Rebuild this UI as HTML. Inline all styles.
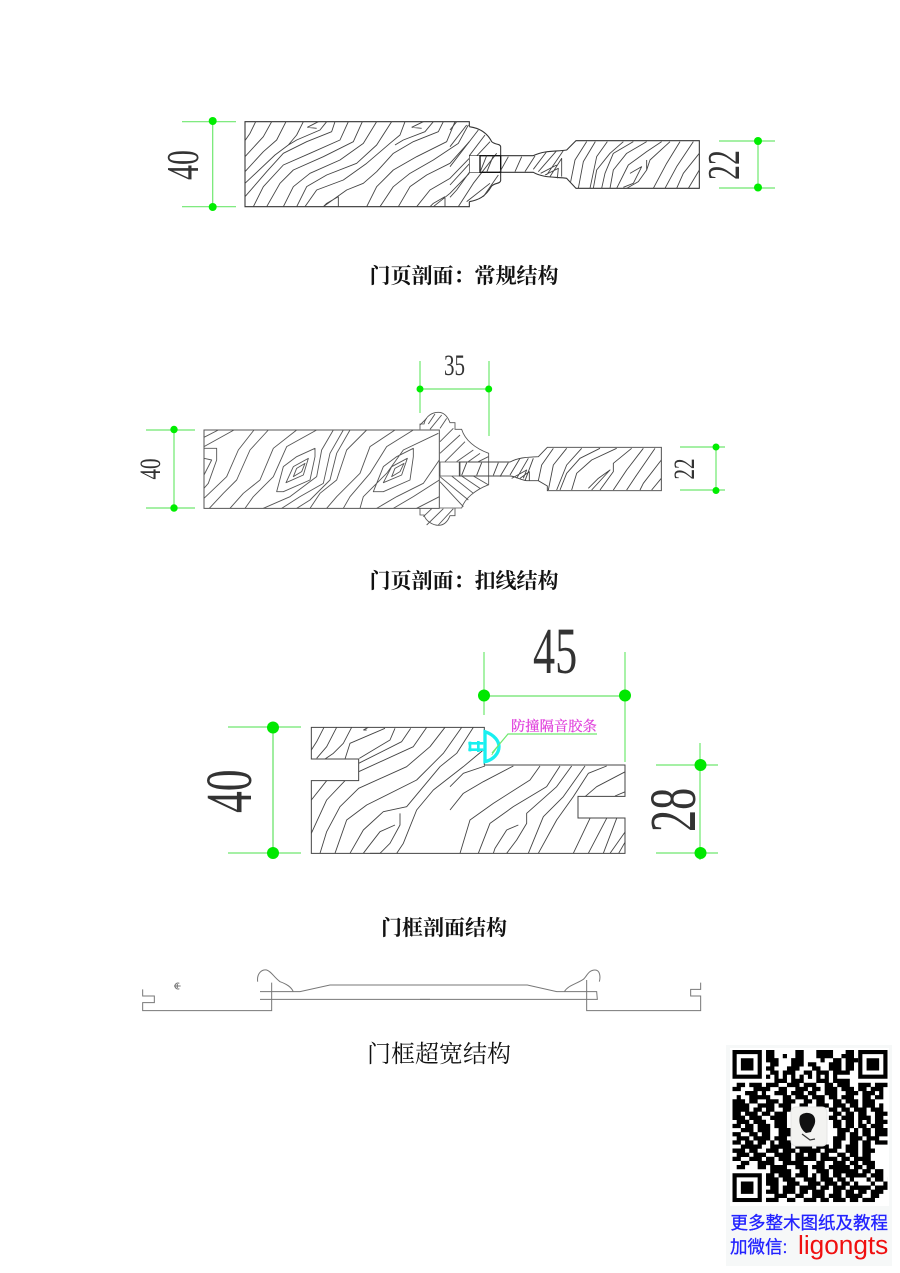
<!DOCTYPE html>
<html><head><meta charset="utf-8"><style>
html,body{margin:0;padding:0;background:#fff}
svg{display:block}
.w{fill:none;stroke:#444;stroke-width:2.7;stroke-linejoin:round}
.o{fill:none;stroke:#333;stroke-width:3.2}
.g{stroke:#6fe86f;stroke-width:1.2;fill:none}
.d{fill:#00ee00}
.n{font-family:"Liberation Serif",serif;fill:#333}
.t{font-family:"Liberation Serif","Noto Serif CJK SC",serif;fill:#111}
</style></head><body>
<svg width="900" height="1273" viewBox="0 0 900 1273" xmlns="http://www.w3.org/2000/svg">
<defs><clipPath id="qc"><rect x="0" y="0" width="37" height="37"/></clipPath></defs>
<rect width="900" height="1273" fill="#fff"/>

<!-- Drawing 1 -->
<g transform="translate(150,100) scale(.33333)">
<path class="o" d="M958 80V65H285V320H958V305"/>
<path class="w" d="M317 65L300 100L285 122M365 65L340 110L285 170M408 65L380 120L340 155L285 215M460 65L440 105L415 135L375 165L285 250M472 82L505 65M472 82L500 85M530 65L510 90L440 120L415 135M555 65L545 95L470 125L400 160L350 215L285 290M595 65L570 120L480 160L400 195L340 260L310 320M637 65L610 125L520 170L430 210L390 250L350 320M680 65L640 130L570 180L480 220L430 260L400 320M725 65L680 135L620 190L530 225L470 260L440 320M765 65L750 105L720 130L650 190L580 240L500 270L465 320M785 82L820 65M785 82L815 85M850 65L825 95L760 120L735 135M880 65L865 95L790 125L730 160L680 215L640 250L590 270L520 320M915 65L890 125L800 170L730 210L680 260L650 320M955 75L925 130L850 180L780 220L730 260L690 320M958 125L900 190L830 225L780 260L745 320M958 175L900 235L840 270L800 320M958 220L900 280L850 320M565 290V320M565 290L530 310L520 320M885 290V320M885 290L850 310L840 320"/>
</g>
<g transform="translate(450,110) scale(.33333)">
<path class="o" d="M58 50C95 55 115 75 125 95C135 105 150 100 152 110V212C150 222 135 218 125 228C105 262 85 270 58 275"/>
<path class="w" d="M0 60L20 35M0 110L50 45M0 170L85 60M0 225L50 170L120 95M58 137L105 75M58 187L20 240L0 262M25 290L70 220L140 130M50 275L120 220M100 260L145 195"/>
<path d="M58 137H90V187H58Z" fill="#fff" stroke="#333" stroke-width="2"/>
<path d="M90 137H152V187H90Z" fill="none" stroke="#111" stroke-width="4"/>
<path class="o" d="M152 137H250C285 120 320 125 350 120L378 92H748V235H378L350 205C320 200 280 205 250 187H152"/>
<path class="w" d="M110 137L90 187M130 137L110 187M175 140L150 185M215 140L195 185M255 138L225 185M290 125L250 178M320 122L265 185M340 122L290 195M272 190L320 165M285 195L325 175L322 205M300 200L335 145V200M410 95L375 150L362 215M436 95L400 155L385 235M472 95L440 140L420 235M520 95L480 130L440 180L430 235M550 95L490 130L465 190L455 235M590 95L530 130L490 180L480 235M635 95L590 125L535 165L500 235M660 95L600 150L590 180L565 215L530 235M590 150V180M540 190L575 170L550 220L520 232M690 95L650 160L610 235M730 95L680 170L645 235M748 130L700 190L680 235M748 180L715 235"/>
</g>
<g class="g"><path d="M182 121.7H236M182 206.7H236M212.7 121.7V206.7M719 141H775M719 188H775M758 141V188"/></g>
<g class="d"><circle cx="212.7" cy="121" r="4"/><circle cx="212.7" cy="207" r="4"/><circle cx="758" cy="141" r="4"/><circle cx="758" cy="187.5" r="4"/></g>
<text class="n" font-size="46" transform="translate(198,180) rotate(-90) scale(.65,1)">40</text>
<text class="n" font-size="46" transform="translate(739,180) rotate(-90) scale(.65,1)">22</text>
<text class="t" font-size="21" font-weight="700" x="369.5" y="283">门页剖面：常规结构</text>

<!-- Drawing 2 -->
<g transform="translate(410,350) scale(.33333)">
<path fill="none" stroke="#555" stroke-width="2.6" d="M30 238V222H42C48 195 70 187 85 187C105 187 115 205 120 218H135V238H155C165 270 195 295 236 310V404C195 420 165 445 155 474H90M30 474V495H42C48 515 70 526 85 526C105 526 115 510 120 497H135V474"/>
<path class="w" style="stroke:#555" d="M50 205L30 225M75 192L55 222M95 195L60 238M110 205L90 235M130 235L90 275M150 255L90 310M165 275L105 335M190 300L140 335M210 310L175 335M235 320L205 335M90 395L160 470M90 380L175 450M125 378L190 430M155 378L210 415M190 378L236 405M100 476L50 525M130 476L85 525M65 476L40 500"/>
<path d="M90 336H150V378H90Z" fill="#fff" stroke="#555" stroke-width="2.6"/>
<path fill="none" stroke="#444" stroke-width="2.8" d="M148 336H300C330 320 360 322 385 320L412 292H754V422H412V408L385 392L350 392C330 390 315 378 300 378H148Z"/>
<path class="w" d="M170 338L155 376M215 338L200 376M265 338L250 376M295 338L270 380M330 325L300 375M355 325L320 385M370 325L345 392M305 385L350 360L340 385M330 385L358 365V392M430 295L395 345L385 392M470 295L430 345L415 420M515 295L470 345L440 420M570 295L510 325L470 370L450 420M620 295L545 330L500 370L485 420M665 295L610 340V365L570 420M545 420L600 360L565 385L535 415M700 295L650 360L610 420M735 295L680 375L650 420M754 330L700 400L690 420M754 385L725 420"/>
</g>
<g transform="translate(130,350) scale(.33333)">
<path d="M222 240H928V475H222Z" fill="#fff" stroke="#555" stroke-width="3"/>
<path class="w" style="stroke:#555" d="M265 240L222 262M312 240L222 290M372 240L325 300L290 380L222 445M415 240L360 300L320 390L280 430L238 475M500 240L430 295L390 390L340 430L300 475M560 240L470 290L430 380L370 440L345 475M610 240L575 300L560 380L480 440L400 475M640 240L600 310L580 400L510 440L455 475M660 240L620 310L600 390L540 450L500 475M710 240L650 300L620 390L570 430L540 475M795 240L720 290L690 370L620 440L590 475M850 240L770 290L720 370L660 440L640 475M925 250L820 300L770 370L700 440L690 475M928 330L880 400L800 440L740 475M928 390L850 440L790 475M928 440L860 475M222 295H260V330L235 400L222 415M222 325L245 330L222 375M440 425L460 425L540 390L555 320V295L500 320L460 350ZM468 398L520 375L535 325L490 350ZM490 380L515 365L525 340L500 355ZM730 425L760 425L840 390L850 320V295L800 320L760 350ZM760 398L815 375L832 325L785 350ZM785 380L810 365L822 340L795 355Z"/>
</g>
<g class="g"><path d="M146 430H195M146 508H195M174 430V508M420 361V413M489 361V436M420 389H489M680 447H725M680 490H725M716 447V490"/></g>
<g class="d"><circle cx="174" cy="429.500" r="3.700"/><circle cx="174" cy="508" r="3.700"/><circle cx="420" cy="389" r="3.500"/><circle cx="488.700" cy="389" r="3.500"/><circle cx="716" cy="447" r="3.500"/><circle cx="716" cy="490.500" r="3.500"/></g>
<text class="n" font-size="30" transform="translate(160,479.500) rotate(-90) scale(.7,1)">40</text>
<text class="n" font-size="30" transform="translate(694,479.500) rotate(-90) scale(.7,1)">22</text>
<text class="n" font-size="30" transform="translate(444,375) scale(.7,1)">35</text>
<text class="t" font-size="21" font-weight="700" x="369.5" y="588">门页剖面：扣线结构</text>

<!-- Drawing 3 -->
<g transform="translate(200,710) scale(.33333)">
<path fill="none" stroke="#444" stroke-width="3" d="M334 212V430H1275V324H1134V259H1275V165H853V52H334V147H476V212Z"/>
<path class="w" d="M372 52L350 95L334 120M410 52L380 110L350 145M455 52L430 100L400 130L375 147M490 60L505 52M490 60L500 60M555 55L520 70L450 100L435 147M585 55L570 90L478 145M632 55L605 95L476 160M680 52L640 110L476 185M735 52L690 110L620 170L476 235L420 290L380 365L360 430M785 52L730 130L650 210L500 285L440 330L405 430M820 52L770 130L720 170L620 290L550 305L490 360L450 430M850 120L790 170L700 240L650 300L610 400L590 430M380 212L334 270M435 212L380 270L334 370M600 310V345L570 400L540 430L510 430M585 345L540 365L505 410L490 430"/>
</g>
<g transform="translate(450,640) scale(.33333)">
<path class="w" d="M105 378L40 400L0 440M190 378L100 425L40 460L0 510M270 378L240 420L130 490L60 540L30 640M330 378L290 440L190 500L120 550L85 640M365 378L320 440L230 520V550L200 600L170 640M405 378L340 470L280 530L235 640M470 378L415 400L370 470L320 540L265 640M526 395L440 440L405 470M526 455L495 468M205 555L170 570L135 625L130 640M420 535L370 640M470 535L415 640M526 575L480 640M526 605L506 640M500 535L460 640"/>
<path d="M103 268V370" stroke="#444" stroke-width="3" fill="none"/>
<path d="M105 275C135 285 147 305 147 320C147 340 130 360 105 365Z" fill="#fff" stroke="#18f0f0" stroke-width="10"/>
<path d="M55 310H100M55 329H100M60 305V334M85 303V336" fill="none" stroke="#18f0f0" stroke-width="8"/>
<path d="M125 345L150 310" stroke="#6fe86f" stroke-width="2.500" fill="none"/>
</g>
<g class="g"><path d="M228 727H301M228 853H301M273 727V853M484 652V715M625 652V762M484 696H625M656 765H718M656 853H718M700 743V860M492 753L508 734H597"/></g>
<path d="M273 727V853M484 696H625" stroke="#90ea90" stroke-width="1.600" fill="none"/>
<g class="d" style="fill:#00e800"><circle cx="273" cy="727.500" r="6"/><circle cx="273" cy="853" r="6"/><circle cx="484" cy="695.500" r="6"/><circle cx="625" cy="695.500" r="6"/><circle cx="700.500" cy="765" r="6"/><circle cx="700.500" cy="853" r="6"/></g>
<text class="n" font-size="66" transform="translate(533,673) scale(.67,1)">45</text>
<text class="n" font-size="66" transform="translate(251,813) rotate(-90) scale(.66,1)">40</text>
<text class="n" font-size="66" transform="translate(695,832) rotate(-90) scale(.67,1)">28</text>
<text font-family="'Liberation Serif','Noto Serif CJK SC',serif" font-size="14.300" fill="#e040dc" stroke="#e040dc" stroke-width=".25" x="511" y="731">防撞隔音胶条</text>
<text class="t" font-size="21" font-weight="700" x="381" y="935">门框剖面结构</text>

<!-- Drawing 4 -->
<g transform="translate(130,960) scale(.33333)" fill="none" stroke="#777" stroke-width="3">
<path d="M38 88V108H73V128H38V152H425V68M390 95H510L600 75H900M390 118H900M383 65C380 40 395 28 410 30C425 35 430 50 450 65C470 72 483 80 490 95"/>
<path d="M148 70A9 9 0 1 0 148 86M132 78H152M142 72V84" stroke-width="3"/>
</g>
<g transform="translate(420,960) scale(.33333)" fill="none" stroke="#777" stroke-width="3">
<path d="M0 75H322L410 95H530L532 118H0M500 60V152H842V108H812V88H842V68M433 95C445 75 470 72 490 58C500 50 505 30 525 30C540 30 542 50 538 65"/>
</g>
<text class="t" font-size="24" x="367" y="1062" fill="#333">门框超宽结构</text>

<!-- QR card -->
<rect x="726" y="1045" width="166" height="221" fill="#f6f8f8"/>
<rect x="730" y="1048" width="159" height="158" fill="#fff"/>
<g transform="translate(732.500,1050) scale(4.190,4.110)" clip-path="url(#qc)">
<path fill="#000" fill-rule="evenodd" d="M0 0H7V7H0ZM1 1V6H6V1ZM2 2H5V5H2ZM30 0H37V7H30ZM31 1V6H36V1ZM32 2H35V5H32ZM0 30H7V37H0ZM1 31V36H6V31ZM2 32H5V35H2Z"/>
<path stroke="#000" stroke-width="1.040" fill="none" d="
M8 .5h2m5 0h2m3 0h4m3 0h2
M8 1.500h2m2 0h1m2 0h2m3 0h4m2 0h3
M8 2.500h3m3 0h3m4 0h1m2 0h2m1 0h3
M9 3.500h2m3 0h3m1 0h2m3 0h3m1 0h2
M8 4.500h2m3 0h3m3 0h2m2 0h3m1 0h2
M9 5.500h2m1 0h3m2 0h2m1 0h3m1 0h4
M8 6.500h1m1 0h1m1 0h1m1 0h1m1 0h1m1 0h1m1 0h1m1 0h1m1 0h1
M10 7.500h3m1 0h3m3 0h3m1 0h4
M1 8.500h2m1 0h3m1 0h3m2 0h3m1 0h3m2 0h2m1 0h3m2 0h3m1 0h3
M0 9.500h2m3 0h4m2 0h2m2 0h3m1 0h2m1 0h3m1 0h3m1 0h2m1 0h3
M3 10.500h3m1 0h1m2 0h3m1 0h3m1 0h2m2 0h3m2 0h3m1 0h3m1 0h1
M1 11.500h1m2 0h5m3 0h2m1 0h3m1 0h3m1 0h2m1 0h3m2 0h2m1 0h2
M0 12.500h3m1 0h2m2 0h3m1 0h3m2 0h2m1 0h2m2 0h2m1 0h3m1 0h3
M0 13.500h4m2 0h4m1 0h3m2 0h2m2 0h3m1 0h3m1 0h2m1 0h3m1 0h1
M0 14.500h4m1 0h2m1 0h2m2 0h2m2 0h5m2 0h2m1 0h2m1 0h3m1 0h3
M0 15.500h2m1 0h3m1 0h2m1 0h3m11 0h2m1 0h2m1 0h2m2 0h3
M0 16.500h3m1 0h3m2 0h4m10 0h2m1 0h3m1 0h3m1 0h2
M1 17.500h3m1 0h3m2 0h3m11 0h2m1 0h2m1 0h1m1 0h1m1 0h3
M0 18.500h2m1 0h2m1 0h3m1 0h3m11 0h2m1 0h2m1 0h2m1 0h3
M2 19.500h3m1 0h3m2 0h3m11 0h3m1 0h1m1 0h2m1 0h3
M0 20.500h2m2 0h2m1 0h2m2 0h3m11 0h2m1 0h2m1 0h2m1 0h3
M1 21.500h3m1 0h4m1 0h3m11 0h3m1 0h3m1 0h3
M0 22.500h2m1 0h2m1 0h2m1 0h1m1 0h3m10 0h2m2 0h2m1 0h2m1 0h3
M2 23.500h5m2 0h5m1 0h4m1 0h3m1 0h2m1 0h3m1 0h2
M0 24.500h3m1 0h2m2 0h3m1 0h3m1 0h5m1 0h3m2 0h3m1 0h3
M1 25.500h3m1 0h3m2 0h4m1 0h2m1 0h2m1 0h2m2 0h2m1 0h2m1 0h2
M0 26.500h2m2 0h3m1 0h2m1 0h3m1 0h5m1 0h4m1 0h2m1 0h4
M2 27.500h2m2 0h4m2 0h5m3 0h2m2 0h3m1 0h2m1 0h3
M1 28.500h2m3 0h2m1 0h4m2 0h3m1 0h3m1 0h5m1 0h2m1 0h2
M9 29.500h5m2 0h2m2 0h3m1 0h6m1 0h2m1 0h2
M8 30.500h2m1 0h3m1 0h3m1 0h1m1 0h2m1 0h2m1 0h5m1 0h3
M8 31.500h3m1 0h3m2 0h3m1 0h3m1 0h2m1 0h1m3 0h1m1 0h2m1 0h1
M8 32.500h3m2 0h3m2 0h3m1 0h3m1 0h2m1 0h1m3 0h1m2 0h1
M9 33.500h2m1 0h3m1 0h4m1 0h2m1 0h3m1 0h5m1 0h3
M8 34.500h3m1 0h3m1 0h2m1 0h3m2 0h2m1 0h2m1 0h2m1 0h3
M10 35.500h3m2 0h2m2 0h3m1 0h3m1 0h4m2 0h2
M8 36.500h3m2 0h2m2 0h3m1 0h2m1 0h3m1 0h2m1 0h3"/>
</g>
<rect x="791" y="1107" width="36" height="39" rx="5" fill="#f3f3f1" stroke="#e4e4e4"/>
<path d="M800 1116C804 1111 814 1112 815 1119C816 1125 812 1128 811 1132L806 1133C801 1130 798 1122 800 1116Z" fill="#111"/>
<path d="M802 1134L810 1140L815 1139" stroke="#333" fill="none" stroke-width="1.200"/>
<text font-family="'Liberation Sans','Noto Sans CJK SC',sans-serif" font-size="17.500" fill="#2222ff" stroke="#2222ff" stroke-width=".3" x="730.500" y="1229">更多整木图纸及教程</text>
<text font-family="'Liberation Sans','Noto Sans CJK SC',sans-serif" font-size="17.500" fill="#2222ff" stroke="#2222ff" stroke-width=".3" x="730" y="1253">加微信:</text>
<text font-family="'Liberation Sans',sans-serif" font-size="26.200" fill="#f01010" x="798" y="1254">ligongts</text>
</svg>
</body></html>
